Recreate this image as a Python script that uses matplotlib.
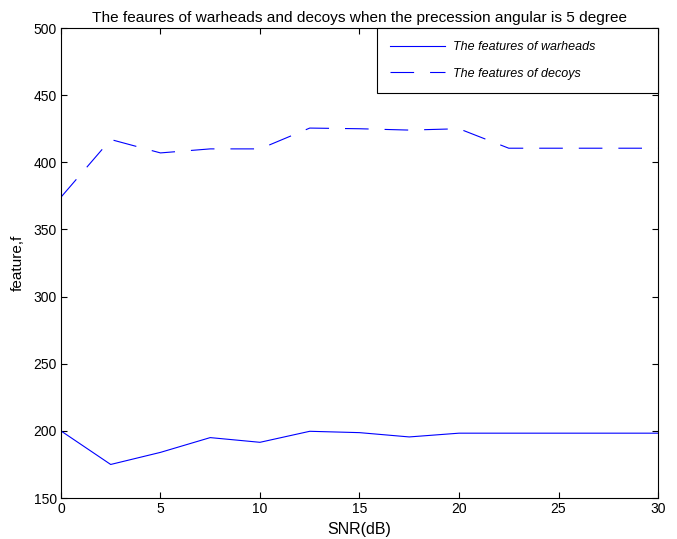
import matplotlib.pyplot as plt
import numpy as np

plt.rcParams['font.family'] = ['Liberation Sans', 'DejaVu Sans']
plt.rcParams['lines.scale_dashes'] = False

snr = np.arange(0, 30.1, 2.5)
warheads = [200, 175, 184, 195, 191.5, 199.7, 198.7, 195.5, 198.3, 198.3, 198.3, 198.3, 198.3]
decoys = [374, 417, 407, 410, 410, 425.5, 425, 424, 425, 410.5, 410.5, 410.5, 410.5]

fig = plt.figure(figsize=(6.77, 5.39), dpi=100)
ax = fig.add_axes([0.090, 0.076, 0.882, 0.872])
ax.plot(snr, warheads, color='#0000ff', lw=0.8, label='The features of warheads')
ax.plot(snr, decoys, color='#0000ff', lw=0.8, dashes=(17, 11.5), label='The features of decoys')

ax.set_xlim(0, 30)
ax.set_ylim(150, 500)
ax.set_xticks(np.arange(0, 31, 5))
ax.set_yticks(np.arange(150, 501, 50))
ax.tick_params(direction='in', top=True, right=True, labelsize=10, length=4, width=0.8, pad=3)
for s in ax.spines.values():
    s.set_linewidth(0.8)

ax.set_xlabel('SNR(dB)', fontsize=11.5, labelpad=4)
ax.set_ylabel('feature,f', fontsize=11, labelpad=6)
ax.set_title('The feaures of warheads and decoys when the precession angular is 5 degree',
             fontsize=11.1, pad=4)

leg = ax.legend(loc='upper right', bbox_to_anchor=(0.529, 0, 0.471, 1), mode='expand',
                prop={'style': 'italic', 'size': 9}, fancybox=False,
                edgecolor='black', framealpha=1, borderaxespad=0, handlelength=4.4,
                handletextpad=0.65, borderpad=1.05, labelspacing=1.15)
leg.get_frame().set_linewidth(0.8)

fig.savefig('out.png', dpi=100)
